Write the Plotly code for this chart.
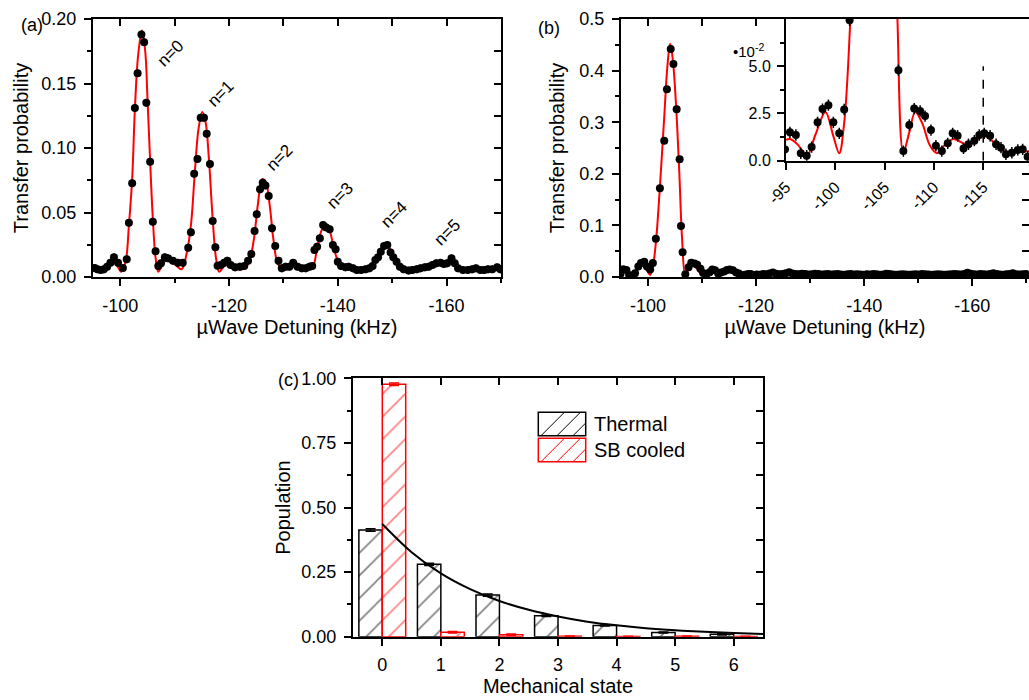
import plotly.graph_objects as go

# ---------------- data: panel (a) ----------------
a_x = [-95.3, -95.8, -96.4, -97.0, -97.6, -98.2, -98.85, -99.6, -100.5, -101.2, -101.6, -102.2,
       -102.7, -103.2, -103.9, -104.4, -104.8, -105.5, -106.0, -106.5, -107.0, -107.5, -108.2,
       -108.8, -109.7, -110.6, -111.5, -112.5, -113.0, -113.6, -114.2, -114.8, -115.4, -115.9,
       -116.5, -117.0, -117.5, -117.9, -118.5, -119.1, -119.7, -120.3, -121.1, -122.0, -122.8,
       -123.5, -124.1, -124.7, -125.1, -125.7, -126.2, -126.7, -127.3, -127.9, -128.5, -129.1,
       -129.7, -130.4, -131.1, -131.8, -132.6, -133.4, -134.1, -134.8, -135.3, -135.7, -136.2,
       -136.7, -137.3, -137.8, -138.5, -139.1, -139.6, -140.0, -140.6, -141.4, -142.0, -142.8,
       -143.5, -144.3, -145.1, -145.8, -146.4, -146.9, -147.4, -147.9, -148.5, -149.1, -149.7,
       -150.2, -150.8, -151.4, -152.1, -153.0, -153.7, -154.5, -155.2, -156.0, -156.7, -157.4,
       -158.1, -158.9, -159.5, -160.1, -160.9, -161.5, -162.1, -163.0, -163.9, -164.7, -165.4,
       -166.2, -166.9, -167.6, -168.4, -169.3, -169.9]
a_y = [0.0070, 0.0060, 0.0055, 0.0060, 0.0080, 0.0110, 0.0153, 0.0110, 0.0070, 0.0137, 0.0420, 0.0726,
       0.1310, 0.1580, 0.1880, 0.1820, 0.1350, 0.0894, 0.0429, 0.0200, 0.0085, 0.0106, 0.0153,
       0.0145, 0.0126, 0.0110, 0.0110, 0.0227, 0.0346, 0.0800, 0.0915, 0.1235, 0.1235, 0.1110,
       0.0876, 0.0434, 0.0230, 0.0088, 0.0093, 0.0110, 0.0126, 0.0093, 0.0075, 0.0080, 0.0085,
       0.0126, 0.0178, 0.0357, 0.0486, 0.0680, 0.0730, 0.0710, 0.0628, 0.0377, 0.0240, 0.0126,
       0.0067, 0.0080, 0.0080, 0.0110, 0.0080, 0.0067, 0.0067, 0.0080, 0.0085, 0.0210, 0.0235,
       0.0300, 0.0403, 0.0385, 0.0370, 0.0248, 0.0215, 0.0119, 0.0085, 0.0075, 0.0080, 0.0067,
       0.0054, 0.0054, 0.0060, 0.0067, 0.0085, 0.0132, 0.0153, 0.0196, 0.0240, 0.0248, 0.0190,
       0.0153, 0.0119, 0.0080, 0.0060, 0.0050, 0.0054, 0.0060, 0.0067, 0.0075, 0.0080, 0.0093,
       0.0106, 0.0110, 0.0100, 0.0106, 0.0145, 0.0106, 0.0067, 0.0054, 0.0054, 0.0060, 0.0067,
       0.0054, 0.0054, 0.0060, 0.0060, 0.0075, 0.0060]
a_fit_x = [-95.0, -97.0, -98.8, -100.2, -101.0, -101.6, -102.2, -102.7, -103.3, -104.0, -104.6,
           -105.0, -105.5, -106.0, -106.5, -107.0, -107.6, -108.5, -110.0, -111.3, -112.2, -113.0,
           -113.7, -114.4, -115.1, -115.7, -116.3, -117.0, -117.6, -118.2, -119.0, -120.3, -121.8,
           -123.0, -123.8, -124.6, -125.3, -126.1, -126.8, -127.5, -128.2, -129.0, -130.0, -132.0,
           -134.0, -135.3, -136.2, -137.3, -138.3, -139.3, -140.3, -141.5, -144.0, -146.0, -147.5,
           -149.0, -150.5, -152.0, -155.0, -158.0, -160.5, -162.0, -166.0, -170.0]
a_fit_y = [0.0060, 0.0060, 0.0120, 0.0040, 0.0120, 0.0400, 0.0760, 0.1300, 0.1720, 0.1910, 0.1750,
           0.1400, 0.0900, 0.0450, 0.0150, 0.0040, 0.0080, 0.0130, 0.0100, 0.0060, 0.0180, 0.0400,
           0.0800, 0.1150, 0.1280, 0.1200, 0.0920, 0.0450, 0.0150, 0.0040, 0.0080, 0.0100, 0.0060,
           0.0070, 0.0130, 0.0300, 0.0560, 0.0760, 0.0730, 0.0550, 0.0280, 0.0100, 0.0060, 0.0080,
           0.0060, 0.0070, 0.0220, 0.0380, 0.0370, 0.0220, 0.0100, 0.0070, 0.0050, 0.0070, 0.0160,
           0.0250, 0.0130, 0.0060, 0.0060, 0.0090, 0.0120, 0.0070, 0.0050, 0.0060]
a_labels = ["n=0", "n=1", "n=2", "n=3", "n=4", "n=5"]
a_label_x = [-109.2, -118.5, -129.3, -140.5, -150.4, -160.1]
a_label_y = [0.1734, 0.1424, 0.0928, 0.0628, 0.0481, 0.0344]

# ---------------- data: panel (b) ----------------
b_x = [-94.9, -95.4, -96.0, -96.5, -97.1, -97.6, -98.2, -98.7, -99.3, -99.8, -100.4, -100.9,
       -101.45, -102.2, -103.0, -103.5, -104.2, -104.7, -105.3, -105.85, -106.1, -106.4, -106.9,
       -107.5, -108.0, -108.6, -109.1, -109.7, -110.2, -110.8, -111.4, -111.9, -112.4, -113.0,
       -113.5, -114.1, -114.6, -115.1, -115.7, -116.3, -116.8, -117.3, -117.9, -118.5, -119.0,
       -119.5, -120.1, -120.7, -121.3, -121.9, -122.5, -123.1, -123.7, -124.3, -124.9, -125.5,
       -126.1, -126.7, -127.3, -127.9, -128.5, -129.1, -129.7, -130.3, -130.9, -131.5, -132.1,
       -132.7, -133.3, -133.9, -134.5, -135.1, -135.7, -136.3, -136.9, -137.5, -138.1, -138.7,
       -139.3, -139.9, -140.5, -141.1, -141.7, -142.3, -142.9, -143.5, -144.1, -144.7, -145.3,
       -145.9, -146.5, -147.1, -147.7, -148.3, -148.9, -149.5, -150.1, -150.7, -151.3, -151.9,
       -152.5, -153.1, -153.7, -154.3, -154.9, -155.5, -156.1, -156.7, -157.3, -157.9, -158.5,
       -159.1, -159.7, -160.3, -160.9, -161.5, -162.1, -162.7, -163.3, -163.9, -164.5, -165.1,
       -165.7, -166.3, -166.9, -167.5, -168.1, -168.7, -169.3, -169.9]
b_y = [0.0060, 0.0150, 0.0136, 0.0039, 0.0026, 0.0072, 0.0203, 0.0273, 0.0294, 0.0203, 0.0145, 0.0271,
       0.0743, 0.1720, 0.2640, 0.3640, 0.4420, 0.4130, 0.3250, 0.2280, 0.0990, 0.0479, 0.0051,
       0.0189, 0.0276, 0.0263, 0.0236, 0.0162, 0.0079, 0.0051, 0.0092, 0.0145, 0.0132, 0.0065,
       0.0087, 0.0106, 0.0136, 0.0145, 0.0132, 0.0087, 0.0069, 0.0034, 0.0042, 0.0057, 0.0060,
       0.0021, 0.0050, 0.0045, 0.0060, 0.0055, 0.0070, 0.0085, 0.0065, 0.0055, 0.0060, 0.0075,
       0.0090, 0.0070, 0.0060, 0.0055, 0.0065, 0.0060, 0.0050, 0.0055, 0.0065, 0.0060, 0.0050,
       0.0055, 0.0060, 0.0050, 0.0055, 0.0060, 0.0050, 0.0045, 0.0055, 0.0060, 0.0050, 0.0055,
       0.0050, 0.0045, 0.0055, 0.0050, 0.0060, 0.0055, 0.0045, 0.0050, 0.0065, 0.0060, 0.0050,
       0.0045, 0.0050, 0.0055, 0.0050, 0.0045, 0.0050, 0.0055, 0.0050, 0.0060, 0.0055, 0.0050,
       0.0045, 0.0050, 0.0055, 0.0050, 0.0045, 0.0050, 0.0055, 0.0060, 0.0055, 0.0050, 0.0060,
       0.0080, 0.0065, 0.0055, 0.0050, 0.0060, 0.0055, 0.0050, 0.0060, 0.0075, 0.0060, 0.0050,
       0.0045, 0.0055, 0.0060, 0.0075, 0.0055, 0.0050, 0.0055, 0.0060]
b_fit_x = [-95.0, -95.4, -96.2, -97.1, -98.0, -99.0, -99.8, -100.4, -100.9, -101.5, -102.2, -103.0,
           -103.6, -104.1, -104.6, -105.2, -105.8, -106.3, -106.9, -107.5, -108.1, -108.8, -109.6,
           -110.3, -111.2, -112.0, -112.7, -113.4, -114.2, -115.0, -115.8, -116.6, -117.3, -118.2,
           -119.5, -122.0, -126.0, -130.0, -135.0, -140.0, -145.0, -150.0, -155.0, -160.0, -165.0,
           -170.5]
b_fit_y = [0.0110, 0.0115, 0.0085, 0.0025, 0.0140, 0.0258, 0.0130, 0.0040, 0.0200, 0.0720, 0.1750,
           0.3100, 0.4100, 0.4520, 0.4200, 0.3300, 0.2000, 0.0750, 0.0045, 0.0150, 0.0258, 0.0200,
           0.0080, 0.0040, 0.0090, 0.0115, 0.0100, 0.0080, 0.0105, 0.0132, 0.0110, 0.0070, 0.0045,
           0.0045, 0.0050, 0.0050, 0.0050, 0.0050, 0.0050, 0.0050, 0.0050, 0.0050, 0.0050, 0.0050,
           0.0050, 0.0050]
b_err = 0.003
marker_line_x = -115.0
marker_line_top = 0.05

# ---------------- data: panel (c) ----------------
states = [0, 1, 2, 3, 4, 5, 6]
thermal = [0.413, 0.280, 0.161, 0.081, 0.043, 0.016, 0.009]
thermal_err = [0.005, 0.004, 0.004, 0.003, 0.002, 0.002, 0.002]
cooled = [0.977, 0.017, 0.008, 0.002, 0.001, 0.002, 0.001]
cooled_err = [0.005, 0.003, 0.002, 0.001, 0.001, 0.001, 0.001]
fit_c_x = [0, 0.5, 1, 1.5, 2, 2.5, 3, 3.5, 4, 4.5, 5, 5.5, 6, 6.5]
fit_c_y = [0.436, 0.327, 0.245, 0.184, 0.138, 0.104, 0.078, 0.058, 0.044, 0.033, 0.025, 0.019, 0.014, 0.010]
series_names = ["Thermal", "SB cooled"]

# tick labels
a_xtick = [-100, -120, -140, -160]
a_xtext = ["-100", "-120", "-140", "-160"]
a_ytick = [0, 0.05, 0.10, 0.15, 0.20]
a_ytext = ["0.00", "0.05", "0.10", "0.15", "0.20"]
b_ytick = [0, 0.1, 0.2, 0.3, 0.4, 0.5]
b_ytext = ["0.0", "0.1", "0.2", "0.3", "0.4", "0.5"]
in_xtick = [-95, -100, -105, -110, -115]
in_xtext = ["-95", "-100", "-105", "-110", "-115"]
in_ytick = [0, 0.025, 0.05]
in_ytext = ["0.0", "2.5", "5.0"]
c_ytick = [0, 0.25, 0.5, 0.75, 1.0]
c_ytext = ["0.00", "0.25", "0.50", "0.75", "1.00"]

# ---------------- layout helpers ----------------
W, H = 1029, 700
def PX(p):
    return p / W
def PY(p):
    return 1 - p / H

FONT = "Liberation Sans, Arial, sans-serif"
RED = "#ff0000"
TICKF = dict(size=18, color="black", family=FONT)
TITLEF = dict(size=20, color="black", family=FONT)

def ax(**kw):
    d = dict(showline=True, linecolor="black", linewidth=2, ticks="outside", ticklen=7,
             tickwidth=2, tickcolor="black", showgrid=False, zeroline=False,
             tickfont=TICKF, automargin=False, ticklabelstandoff=4)
    d.update(kw)
    return d

def minor(vals, direction="outside", ln=4):
    return dict(tickvals=vals, ticks=direction, ticklen=ln, tickwidth=2, tickcolor="black", showgrid=False)

def mirror_ax(**kw):
    d = dict(ticks="inside", ticklen=7, tickwidth=2, tickcolor="black", showticklabels=False,
             showline=True, linecolor="black", linewidth=2, showgrid=False, zeroline=False,
             automargin=False)
    d.update(kw)
    return d

fig = go.Figure()

# panel (a)
fig.add_trace(go.Scatter(x=a_fit_x, y=a_fit_y, mode="lines", line=dict(color=RED, width=2, shape="spline"),
                         xaxis="x", yaxis="y", showlegend=False, hoverinfo="skip"))
fig.add_trace(go.Scatter(x=a_x, y=a_y, mode="markers", marker=dict(color="black", size=8),
                         error_y=dict(type="constant", value=0.003, color="black", thickness=1.5, width=0),
                         xaxis="x", yaxis="y", showlegend=False))
# panel (b)
fig.add_trace(go.Scatter(x=b_fit_x, y=b_fit_y, mode="lines", line=dict(color=RED, width=2, shape="spline"),
                         xaxis="x2", yaxis="y2", showlegend=False, hoverinfo="skip"))
fig.add_trace(go.Scatter(x=b_x, y=b_y, mode="markers", marker=dict(color="black", size=8),
                         error_y=dict(type="constant", value=b_err, color="black", thickness=1.5, width=0),
                         xaxis="x2", yaxis="y2", showlegend=False))
# inset
fig.add_trace(go.Scatter(x=b_fit_x, y=b_fit_y, mode="lines", line=dict(color=RED, width=2, shape="spline"),
                         xaxis="x3", yaxis="y3", showlegend=False, hoverinfo="skip"))
fig.add_trace(go.Scatter(x=b_x, y=b_y, mode="markers", marker=dict(color="black", size=8),
                         error_y=dict(type="constant", value=b_err, color="black", thickness=1.5, width=0),
                         xaxis="x3", yaxis="y3", showlegend=False))
# panel (c)
fig.add_trace(go.Bar(x=states, y=thermal, name=series_names[0], xaxis="x4", yaxis="y4", showlegend=False,
                     marker=dict(color="white", line=dict(color="black", width=1.5),
                                 pattern=dict(shape="/", fgcolor="black", bgcolor="white", size=16, solidity=0.1)),
                     error_y=dict(type="data", array=thermal_err, color="black", thickness=1.5, width=5)))
fig.add_trace(go.Bar(x=states, y=cooled, name=series_names[1], xaxis="x4", yaxis="y4", showlegend=False,
                     marker=dict(color="white", line=dict(color=RED, width=1.5),
                                 pattern=dict(shape="/", fgcolor=RED, bgcolor="white", size=16, solidity=0.1)),
                     error_y=dict(type="data", array=cooled_err, color=RED, thickness=1.5, width=5)))
fig.add_trace(go.Scatter(x=fit_c_x, y=fit_c_y, mode="lines", line=dict(color="black", width=2, shape="spline"),
                         xaxis="x4", yaxis="y4", showlegend=False, hoverinfo="skip"))

# dummy traces for mirrored-tick overlay axes
for xa, ya in [("x5", "y5"), ("x6", "y6"), ("x7", "y7")]:
    fig.add_trace(go.Scatter(x=[None], y=[None], xaxis=xa, yaxis=ya, showlegend=False, hoverinfo="skip"))

a_dom_x = [PX(93), PX(501)]
a_dom_y = [PY(277), PY(19)]
b_dom_x = [PX(621), 1.0]
b_dom_y = [PY(277), PY(19)]
in_dom_x = [PX(786), 1.0]
in_dom_y = [PY(160.7), PY(19)]
c_dom_x = [PX(353), PX(763)]
c_dom_y = [PY(636.7), PY(378.3)]

a_range_x = [-95, -170]
b_range_x = [-95, -170.5]
in_range_x = [-95, -119.64]

fig.update_layout(
    width=W, height=H, margin=dict(l=0, r=0, t=0, b=0, autoexpand=False),
    paper_bgcolor="white", plot_bgcolor="white",
    font=dict(family=FONT, size=18, color="black"),
    barmode="group", bargap=0.2, bargroupgap=0.0,
    showlegend=False,
    xaxis=ax(domain=a_dom_x, anchor="y", range=a_range_x, tickvals=a_xtick, ticktext=a_xtext,
             minor=minor([-110, -130, -150, -170]),
             title=dict(text="µWave Detuning (kHz)", font=TITLEF, standoff=5)),
    yaxis=ax(domain=a_dom_y, anchor="x", range=[0, 0.2], tickvals=a_ytick, ticktext=a_ytext,
             minor=minor([0.025, 0.075, 0.125, 0.175]),
             title=dict(text="Transfer probability", font=TITLEF, standoff=7)),
    xaxis2=ax(domain=b_dom_x, anchor="y2", range=b_range_x, tickvals=a_xtick, ticktext=a_xtext,
              minor=minor([-110, -130, -150, -170]),
              title=dict(text="µWave Detuning (kHz)", font=TITLEF, standoff=5)),
    yaxis2=ax(domain=b_dom_y, anchor="x2", range=[0, 0.5], tickvals=b_ytick, ticktext=b_ytext,
              minor=minor([0.05, 0.15, 0.25, 0.35, 0.45]),
              title=dict(text="Transfer probability", font=TITLEF, standoff=9)),
    xaxis3=ax(domain=in_dom_x, anchor="y3", range=in_range_x, tickvals=in_xtick, ticktext=in_xtext,
              tickangle=-45, ticklabelstandoff=2, tickfont=dict(size=16, family=FONT, color="black")),
    yaxis3=ax(domain=in_dom_y, anchor="x3", range=[0, 0.075], tickvals=in_ytick, ticktext=in_ytext,
              ticklabelstandoff=3,
              minor=minor([0.0125, 0.0375, 0.0625]), tickfont=dict(size=16, family=FONT, color="black")),
    xaxis4=ax(domain=c_dom_x, anchor="y4", range=[-0.5, 6.5], tickvals=states,
              title=dict(text="Mechanical state", font=TITLEF, standoff=4)),
    yaxis4=ax(domain=c_dom_y, anchor="x4", range=[0, 1.0], tickvals=c_ytick, ticktext=c_ytext,
              minor=minor([0.125, 0.375, 0.625, 0.875]),
              title=dict(text="Population", font=TITLEF, standoff=5)),
    # mirrored inward ticks
    xaxis5=mirror_ax(overlaying="x", anchor="y5", side="top", range=a_range_x,
                     tickvals=[-100, -110, -120, -130, -140, -150, -160]),
    yaxis5=mirror_ax(overlaying="y", anchor="x5", side="right", range=[0, 0.2],
                     tickvals=[0.025, 0.05, 0.075, 0.1, 0.125, 0.15, 0.175]),
    xaxis6=mirror_ax(overlaying="x2", anchor="y6", side="top", range=b_range_x,
                     tickvals=[-100, -110, -120, -130, -140, -150, -160, -170]),
    yaxis6=mirror_ax(overlaying="y2", anchor="x6", side="right", range=[0, 0.5], showline=False,
                     tickvals=[0.05, 0.1, 0.15, 0.2, 0.25, 0.3, 0.35, 0.4, 0.45]),
    xaxis7=mirror_ax(overlaying="x4", anchor="y7", side="top", range=[-0.5, 6.5], tickvals=states),
    yaxis7=mirror_ax(overlaying="y4", anchor="x7", side="right", range=[0, 1.0],
                     tickvals=[0.125, 0.25, 0.375, 0.5, 0.625, 0.75, 0.875]),
)

annotations = []
for t, xv, yv in zip(a_labels, a_label_x, a_label_y):
    annotations.append(dict(text=t, x=xv, y=yv, xref="x", yref="y", showarrow=False,
                            textangle=-45, font=dict(size=17, family=FONT)))
for t, px, py in [("(a)", 19, 13), ("(b)", 549, 16), ("(c)", 276, 380)]:
    annotations.append(dict(text=t, x=PX(px), y=PY(py), xref="paper", yref="paper", showarrow=False,
                            font=dict(size=18, family=FONT)))
annotations.append(dict(text="•10<sup>-2</sup>", x=PX(731), y=PY(39), xref="paper", yref="paper",
                        xanchor="left", showarrow=False, font=dict(size=15, family=FONT)))

# legend drawn as hatched swatches + labels
legend_rows = [(412.3, 435.7, "black", series_names[0]), (438.3, 461.7, RED, series_names[1])]
sx0, sx1 = 538.3, 585.7
for (ty, by, col, name) in legend_rows:
    fig.add_shape(type="rect", xref="paper", yref="paper", x0=PX(sx0), x1=PX(sx1), y0=PY(by), y1=PY(ty),
                  line=dict(color=col, width=1.5), fillcolor="white")
    hgt = by - ty
    for xb in [541.0, 557.0, 573.0]:
        xe = xb + hgt
        ye = ty
        if xe > sx1:
            ye = by - (sx1 - xb)
            xe = sx1
        fig.add_shape(type="line", xref="paper", yref="paper", x0=PX(xb), y0=PY(by), x1=PX(xe), y1=PY(ye),
                      line=dict(color=col, width=1))
    annotations.append(dict(text=name, x=PX(592), y=PY((ty + by) / 2), xref="paper", yref="paper",
                            xanchor="left", showarrow=False, font=dict(size=20, family=FONT)))
fig.update_layout(annotations=annotations)

fig.add_shape(type="line", xref="x3", yref="y3", x0=marker_line_x, x1=marker_line_x, y0=0, y1=marker_line_top,
              line=dict(color="black", width=1.5, dash="dash"))

# remove the default 8px page margin so the figure sits at the window's top-left corner
fig.write_html("out.html", config={"displayModeBar": False},
               post_script="document.body.style.margin='0';document.body.style.overflow='hidden';")
